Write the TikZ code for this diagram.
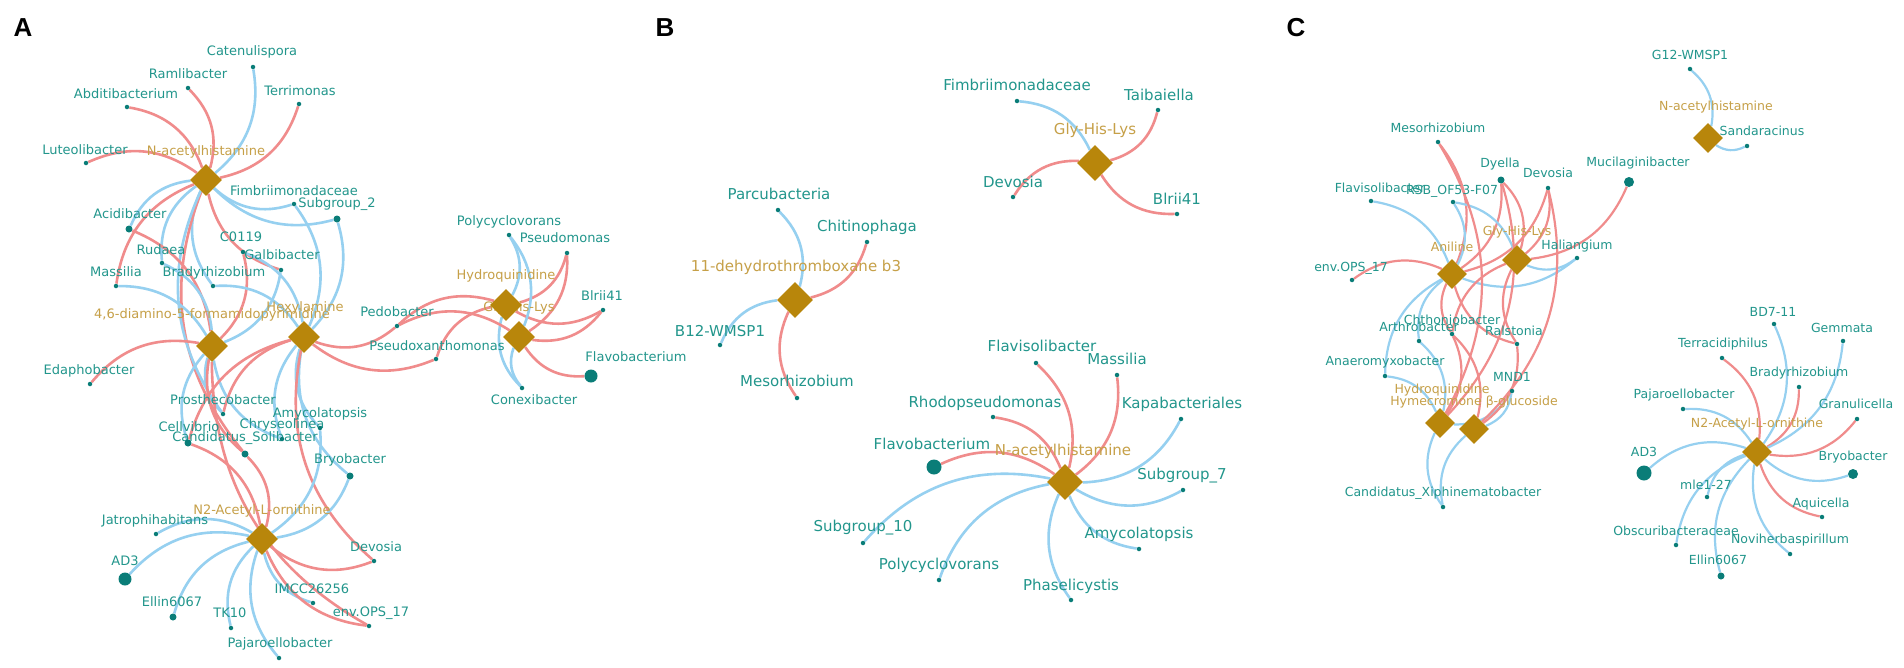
\documentclass[tikz,border=0pt]{standalone}
\usepackage{fontspec}
\setmainfont{DejaVu Sans}
\newfontfamily\panelfont{Liberation Sans}
\usetikzlibrary{shapes.geometric}
\pgfdeclarelayer{bg}
\pgfdeclarelayer{lab}
\pgfsetlayers{bg,lab,main}
\definecolor{labc}{RGB}{34,150,140}
\definecolor{dotc}{RGB}{10,125,120}
\definecolor{cmpc}{RGB}{198,160,72}
\definecolor{diac}{RGB}{184,134,11}
\definecolor{rede}{RGB}{240,140,140}
\definecolor{bluee}{RGB}{150,208,240}
\newcommand\bac[5]{\node[#5] (#1) at (#2) {};\begin{pgfonlayer}{lab}\node[blab] (#1l) at (#3) {#4};\end{pgfonlayer}}
\newcommand\cmp[4]{\node[dia] (#1) at (#2) {};\begin{pgfonlayer}{lab}\node[clab] (#1l) at (#3) {#4};\end{pgfonlayer}}
\newcommand\redge[2]{\draw[rE] (#1) to (#2);}
\newcommand\bedge[2]{\draw[bE] (#1) to (#2);}
\begin{document}
\begin{tikzpicture}[x=1pt,y=-1pt,
  dot/.style={circle,fill=dotc,draw=none,inner sep=0pt,minimum size=4.5pt},
  mdot/.style={dot,minimum size=7pt},
  bdot/.style={dot,minimum size=13pt},
  dia/.style={diamond,fill=diac,draw=none,inner sep=0pt,minimum width=32pt,minimum height=32pt},
  blab/.style={text=labc,inner sep=0pt,font=\fontsize{13}{13}\selectfont},
  clab/.style={text=cmpc,inner sep=0pt,font=\fontsize{13}{13}\selectfont},
  rE/.style={draw=rede,line width=2.6pt,bend right=30},
  bE/.style={draw=bluee,line width=2.6pt,bend right=30},
  plab/.style={font=\panelfont\bfseries\fontsize{26}{26}\selectfont,text=black,inner sep=0pt}]
\begin{pgfonlayer}{bg}
\fill[white] (0,0) rectangle (1904,667);
\end{pgfonlayer}
\useasboundingbox (0,0) rectangle (1904,667);
\node[plab] (pA) at (23,28) {A};
\node[plab] (pB) at (665,28) {B};
\node[plab] (pC) at (1296,28) {C};

% ---------------- Panel A ----------------
\cmp{NA}{206,180}{206,152}{N-acetylhistamine}
\cmp{DF}{212,346}{212,315}{4,6-diamino-5-formamidopyrimidine}
\cmp{HX}{304,337}{305,308}{Hexylamine}
\cmp{GA}{519,337}{519,308}{Gly-His-Lys}
\cmp{HQ}{506,305}{506,276}{Hydroquinidine}
\cmp{NTa}{262,539}{262,511}{N2-Acetyl-L-ornithine}
\bac{Cat}{253,67}{252,52}{Catenulispora}{dot}
\bac{Ram}{188,88}{188,74}{Ramlibacter}{dot}
\bac{Abd}{127,107}{126,94}{Abditibacterium}{dot}
\bac{Ter}{299,104}{300,91}{Terrimonas}{dot}
\bac{Lut}{86,163}{85,150}{Luteolibacter}{dot}
\bac{Fim}{294,204}{294,191}{Fimbriimonadaceae}{dot}
\bac{Sub}{337,219}{337,204}{Subgroup\_2}{mdot}
\bac{Aci}{129,229}{130,214}{Acidibacter}{mdot}
\bac{Czz}{243,252}{241,237}{C0119}{dot}
\bac{Rud}{162,263}{161,250}{Rudaea}{dot}
\bac{Gal}{281,270}{282,255}{Galbibacter}{dot}
\bac{Bra}{213,286}{214,273}{Bradyrhizobium}{dot}
\bac{Mas}{116,286}{116,272}{Massilia}{dot}
\bac{Ped}{397,326}{397,312}{Pedobacter}{dot}
\bac{Psx}{436,359}{437,346}{Pseudoxanthomonas}{dot}
\bac{Pol}{509,235}{509,222}{Polycyclovorans}{dot}
\bac{Psm}{567,253}{565,238}{Pseudomonas}{dot}
\bac{Blr}{603,310}{602,296}{Blrii41}{dot}
\bac{Fla}{591,376}{636,357}{Flavobacterium}{bdot}
\bac{Con}{522,388}{534,400}{Conexibacter}{dot}
\bac{Eda}{90,384}{89,371}{Edaphobacter}{dot}
\bac{Pro}{223,414}{223,400}{Prosthecobacter}{dot}
\bac{Cel}{188,443}{189,427}{Cellvibrio}{mdot}
\bac{Sol}{245,454}{245,438}{Candidatus\_Solibacter}{mdot}
\bac{Chr}{282,439}{282,425}{Chryseolinea}{dot}
\bac{Amy}{320,428}{320,414}{Amycolatopsis}{dot}
\bac{Bry}{350,476}{350,460}{Bryobacter}{mdot}
\bac{Jat}{156,534}{155,521}{Jatrophihabitans}{dot}
\bac{ADa}{125,579}{125,561}{AD3}{bdot}
\bac{Ell}{173,617}{172,602}{Ellin6067}{mdot}
\bac{TKt}{231,628}{230,613}{TK10}{dot}
\bac{Paj}{279,658}{280,644}{Pajaroellobacter}{dot}
\bac{IMC}{313,603}{312,589}{IMCC26256}{dot}
\bac{Env}{369,626}{371,613}{env.OPS\_17}{dot}
\bac{Dev}{374,561}{376,547}{Devosia}{dot}

\begin{pgfonlayer}{bg}
\bedge{NA}{Cat}\redge{NA}{Ram}\redge{NA}{Abd}\redge{NA}{Ter}\redge{NA}{Lut}
\bedge{NA}{Fim}\bedge{NA}{Sub}\bedge{NA}{Aci}\bedge{NA}{Rud}\redge{NA}{Mas}
\bedge{NA}{Bra}\redge{NA}{Gal}\redge{NA}{Sol}\bedge{NA}{Pro}
\redge{DF}{Aci}\bedge{DF}{Rud}\redge{DF}{Czz}\bedge{DF}{Gal}\bedge{DF}{Mas}
\redge{DF}{Eda}\bedge{DF}{Pro}\bedge{DF}{Cel}\redge{DF}{Sol}\bedge{DF}{Chr}\redge{DF}{Env}
\bedge{HX}{Fim}\bedge{HX}{Sub}\bedge{HX}{Bra}\bedge{HX}{Czz}\redge{HX}{Ped}\redge{HX}{Psx}
\redge{HX}{Cel}\bedge{HX}{Amy}\bedge{HX}{Bry}\bedge{HX}{Chr}\redge{HX}{Pro}\redge{HX}{Dev}
\redge{HQ}{Ped}\bedge{HQ}{Pol}\redge{HQ}{Psm}\redge{HQ}{Blr}\bedge{HQ}{Con}\redge{HQ}{Psx}
\bedge{GA}{Pol}\redge{GA}{Psm}\redge{GA}{Blr}\redge{GA}{Fla}\bedge{GA}{Con}\redge{GA}{Ped}
\bedge{NTa}{Jat}\bedge{NTa}{ADa}\bedge{NTa}{Ell}\bedge{NTa}{TKt}\bedge{NTa}{Paj}\bedge{NTa}{IMC}
\redge{NTa}{Env}\redge{NTa}{Dev}\bedge{NTa}{Bry}\redge{NTa}{Cel}\redge{NTa}{Sol}\bedge{NTa}{Amy}
\end{pgfonlayer}

% ---------------- Panel B ----------------
\begin{scope}[blab/.append style={font=\fontsize{15}{15}\selectfont},
  clab/.append style={font=\fontsize{15}{15}\selectfont},
  dia/.append style={minimum width=36pt,minimum height=36pt}]
\cmp{DT}{795,300}{796,267}{11-dehydrothromboxane b3}
\cmp{GB}{1095,163}{1095,130}{Gly-His-Lys}
\cmp{NB}{1065,482}{1063,451}{N-acetylhistamine}
\bac{Par}{778,210}{779,194}{Parcubacteria}{dot}
\bac{Chi}{867,242}{867,227}{Chitinophaga}{dot}
\bac{Btw}{720,345}{720,331}{B12-WMSP1}{dot}
\bac{MeB}{797,398}{797,381}{Mesorhizobium}{dot}
\bac{FiB}{1017,101}{1017,85}{Fimbriimonadaceae}{dot}
\bac{Tai}{1158,110}{1159,95}{Taibaiella}{dot}
\bac{DeB}{1013,197}{1013,182}{Devosia}{dot}
\bac{BlB}{1177,214}{1177,199}{Blrii41}{dot}
\bac{FlB}{934,467}{932,444}{Flavobacterium}{dot,minimum size=15pt}
\bac{Rho}{993,417}{985,403}{Rhodopseudomonas}{dot}
\bac{FsB}{1036,363}{1042,346}{Flavisolibacter}{dot}
\bac{MaB}{1117,375}{1117,359}{Massilia}{dot}
\bac{Kap}{1181,419}{1182,404}{Kapabacteriales}{dot}
\bac{Sse}{1183,490}{1182,476}{Subgroup\_7}{dot}
\bac{AmB}{1139,549}{1139,534}{Amycolatopsis}{dot}
\bac{Ste}{863,543}{863,528}{Subgroup\_10}{dot}
\bac{PoB}{939,580}{939,565}{Polycyclovorans}{dot}
\bac{Pha}{1071,600}{1071,586}{Phaselicystis}{dot}
\end{scope}
\begin{pgfonlayer}{bg}
\bedge{DT}{Par}\redge{DT}{Chi}\bedge{DT}{Btw}\redge{DT}{MeB}
\bedge{GB}{FiB}\redge{GB}{Tai}\redge{GB}{DeB}\redge{GB}{BlB}
\redge{NB}{FlB}\redge{NB}{Rho}\redge{NB}{FsB}\redge{NB}{MaB}\bedge{NB}{Kap}
\bedge{NB}{Sse}\bedge{NB}{AmB}\bedge{NB}{Ste}\bedge{NB}{PoB}\bedge{NB}{Pha}
\end{pgfonlayer}

% ---------------- Panel C ----------------
\begin{scope}[blab/.append style={font=\fontsize{12.5}{12.5}\selectfont},
  clab/.append style={font=\fontsize{12.5}{12.5}\selectfont},
  dia/.append style={minimum width=30pt,minimum height=30pt},
  rE/.append style={line width=2.2pt},bE/.append style={line width=2.2pt}]
\cmp{Ani}{1452,274}{1452,247}{Aniline}
\cmp{GC}{1517,260}{1517,232}{Gly-His-Lys}
\cmp{NC}{1708,138}{1716,107}{N-acetylhistamine}
\cmp{HQc}{1440,423}{1442,390}{Hydroquinidine}
\cmp{HGc}{1474,429}{1474,402}{Hymecromone β-glucoside}
\cmp{NTc}{1757,452}{1757,424}{N2-Acetyl-L-ornithine}
\bac{MeC}{1438,142}{1438,128}{Mesorhizobium}{dot}
\bac{Dye}{1501,180}{1500,164}{Dyella}{mdot}
\bac{DeC}{1548,188}{1548,173}{Devosia}{dot}
\bac{Muc}{1629,182}{1638,163}{Mucilaginibacter}{dot,minimum size=10pt}
\bac{FsC}{1371,201}{1380,188}{Flavisolibacter}{dot}
\bac{RSB}{1453,202}{1452,191}{RSB\_OF53-F07}{dot}
\bac{Hal}{1577,258}{1577,246}{Haliangium}{dot}
\bac{EnC}{1352,280}{1351,268}{env.OPS\_17}{dot}
\bac{Gtw}{1690,69}{1690,55}{G12-WMSP1}{dot}
\bac{San}{1747,146}{1762,131}{Sandaracinus}{dot}
\bac{Art}{1419,341}{1419,327}{Arthrobacter}{dot}
\bac{Chh}{1452,334}{1452,320}{Chthoniobacter}{dot}
\bac{Ral}{1517,344}{1514,331}{Ralstonia}{dot}
\bac{Ana}{1385,376}{1385,362}{Anaeromyxobacter}{dot}
\bac{MND}{1512,391}{1512,377}{MND1}{dot}
\bac{CXi}{1443,507}{1443,493}{Candidatus\_Xiphinematobacter}{dot}
\bac{BDs}{1774,324}{1773,312}{BD7-11}{dot}
\bac{Gem}{1843,341}{1842,328}{Gemmata}{dot}
\bac{Tcd}{1722,358}{1723,344}{Terracidiphilus}{dot}
\bac{BrC}{1799,387}{1799,373}{Bradyrhizobium}{dot}
\bac{Gra}{1857,419}{1856,404}{Granulicella}{dot}
\bac{PaC}{1683,409}{1684,395}{Pajaroellobacter}{dot}
\bac{ADc}{1644,473}{1644,452}{AD3}{dot,minimum size=15pt}
\bac{ByC}{1853,474}{1853,457}{Bryobacter}{dot,minimum size=10pt}
\bac{Mle}{1707,497}{1706,485}{mle1-27}{dot}
\bac{Aqu}{1822,517}{1821,504}{Aquicella}{dot}
\bac{Obs}{1676,545}{1676,531}{Obscuribacteraceae}{dot}
\bac{Nov}{1790,554}{1790,540}{Noviherbaspirillum}{dot}
\bac{ElC}{1721,576}{1718,560}{Ellin6067}{mdot}
\begin{pgfonlayer}{bg}
\redge{Ani}{MeC}\redge{Ani}{Dye}\redge{Ani}{DeC}\bedge{Ani}{FsC}\bedge{Ani}{RSB}\bedge{Ani}{Hal}
\redge{Ani}{EnC}\bedge{Ani}{Art}\redge{Ani}{Chh}\bedge{Ani}{Ana}\redge{Ani}{Ral}
\redge{GC}{Dye}\redge{GC}{DeC}\redge{GC}{Muc}\bedge{GC}{RSB}\bedge{GC}{Hal}\redge{GC}{Ral}\redge{GC}{Chh}
\bedge{HQc}{Art}\bedge{HQc}{Ana}\bedge{HQc}{CXi}\redge{HQc}{Chh}\bedge{HQc}{MND}\redge{HQc}{MeC}\redge{HQc}{Dye}
\bedge{HGc}{CXi}\bedge{HGc}{MND}\redge{HGc}{Ral}\redge{HGc}{Chh}\redge{HGc}{DeC}
\bedge{NC}{Gtw}\bedge{NC}{San}
\bedge{NTc}{PaC}\bedge{NTc}{ADc}\redge{NTc}{Tcd}\bedge{NTc}{BDs}\redge{NTc}{BrC}\bedge{NTc}{Gem}
\redge{NTc}{Gra}\bedge{NTc}{ByC}\redge{NTc}{Aqu}\bedge{NTc}{Mle}\bedge{NTc}{Obs}\bedge{NTc}{ElC}\bedge{NTc}{Nov}
\end{pgfonlayer}
\end{scope}
\end{tikzpicture}
\end{document}
